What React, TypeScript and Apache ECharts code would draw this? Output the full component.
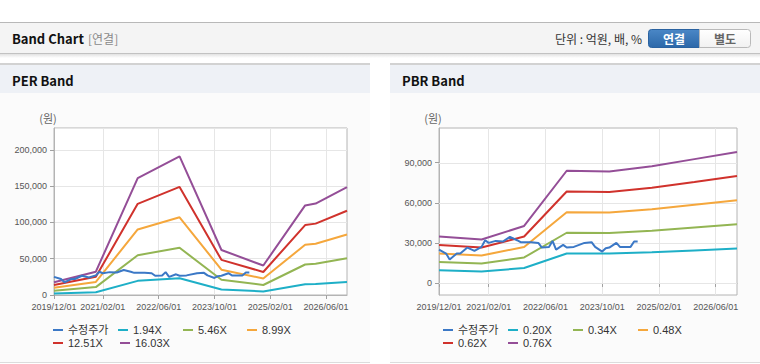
import React, { useEffect, useRef } from 'react';
import * as echarts from 'echarts';

// x-axis categories (monthly) and the labelled ticks
const monthCategories: string[] = [];
for (let y = 2019; y <= 2026; y++) {
  for (let m = 1; m <= 12; m++) {
    if (y === 2019 && m < 12) continue;
    monthCategories.push(`${y}/${String(m).padStart(2, '0')}/01`);
  }
}
const tickLabels = ['2019/12/01', '2021/02/01', '2022/06/01', '2023/10/01', '2025/02/01', '2026/06/01'];

// adjusted share price (수정주가)
const priceDates = [
  '2019/12/01', '2020/02/01', '2020/03/01', '2020/05/01', '2020/06/01', '2020/08/01', '2020/10/01', '2020/12/01',
  '2021/01/01', '2021/02/01', '2021/04/01', '2021/06/01', '2021/08/01', '2021/10/01', '2021/11/01', '2022/02/01',
  '2022/04/01', '2022/05/01', '2022/07/01', '2022/08/01', '2022/09/01', '2022/11/01', '2022/12/01', '2023/02/01',
  '2023/05/01', '2023/07/01', '2023/08/01', '2023/10/01', '2023/11/01', '2023/12/01', '2024/02/01', '2024/03/01',
  '2024/06/01', '2024/07/01', '2024/08/01',
];
const priceValues = [
  25000, 22000, 17500, 22000, 22000, 26500, 24000, 27000,
  32000, 30000, 31500, 31000, 34500, 32000, 30500, 30500,
  30000, 26500, 27000, 31500, 25000, 28500, 26500, 27000,
  30000, 30500, 27000, 23500, 26000, 26500, 30000, 27000,
  27000, 31000, 31000,
];

// PER band
const perDates = ['2019/12/01', '2020/12/01', '2021/12/01', '2022/12/01', '2023/12/01', '2024/12/01', '2025/12/01', '2026/03/01', '2026/12/01'];
const per194 = [2100, 3900, 19500, 23100, 7500, 4900, 14900, 15200, 18000];
const per546 = [6000, 10900, 54800, 65000, 21100, 13800, 42000, 42900, 50600];
const per899 = [9900, 18000, 90300, 107000, 34800, 22700, 69200, 70700, 83300];
const per1251 = [13800, 25000, 125600, 148900, 48400, 31700, 96300, 98300, 116000];
const per1603 = [17600, 32100, 161000, 190800, 62000, 40600, 123400, 126000, 148600];
const perNames = ['1.94X', '5.46X', '8.99X', '12.51X', '16.03X'];

// PBR band
const pbrDates = ['2019/12/01', '2020/12/01', '2021/12/01', '2022/12/01', '2023/12/01', '2024/12/01', '2025/12/01', '2026/12/01'];
const pbr020 = [9500, 8600, 11200, 22100, 22000, 23000, 24400, 25800];
const pbr034 = [15700, 14600, 19100, 37600, 37400, 39100, 41500, 43900];
const pbr048 = [22000, 20500, 27000, 53000, 52700, 55200, 58600, 61900];
const pbr062 = [28400, 26500, 34800, 68500, 68100, 71300, 75600, 80000];
const pbr076 = [34700, 32500, 42700, 84000, 83500, 87400, 92700, 98000];
const pbrNames = ['0.20X', '0.34X', '0.48X', '0.62X', '0.76X'];

const pbrTicks = [0, 30000, 60000, 90000];

const colors = ['#3b78c6', '#1eafc7', '#93b553', '#f5a73c', '#d0322c', '#944e97'];
const priceName = '수정주가';

const LABEL_FONT = "'Liberation Sans', Arial, sans-serif";
const TEXT_FONT = "'Liberation Sans', 'Noto Sans CJK KR', sans-serif";
const KR_FONT = "'Noto Sans CJK KR', 'Noto Sans', sans-serif";

const pairs = (dates: string[], vals: number[]) => dates.map((d, i) => [d, vals[i]]);
const tickSet = new Set(tickLabels);
const showTick = (_i: number, v: string) => tickSet.has(v);
const fmt = (v: number) => v.toLocaleString('en-US');

export default function App() {
  const ref = useRef<HTMLDivElement>(null);
  useEffect(() => {
    if (!ref.current) return;
    const chart = echarts.init(ref.current, undefined, { renderer: 'svg' });

    const xAxisBase = (gridIndex: number) => ({
      type: 'category',
      gridIndex,
      data: monthCategories,
      boundaryGap: false,
      axisLine: { show: true, lineStyle: { color: '#b4b4b4' } },
      axisTick: { show: true, interval: showTick, length: 4, lineStyle: { color: '#a0a0a0' } },
      axisLabel: { interval: showTick, showMinLabel: true, fontSize: 9, color: '#555', margin: 7, fontFamily: LABEL_FONT },
      splitLine: { show: true, interval: showTick, lineStyle: { color: '#e6e6e6' } },
    });

    const lineSeries = (name: string, x: number, data: any[], color: string, z = 2) => ({
      type: 'line',
      name,
      xAxisIndex: x,
      yAxisIndex: x,
      data,
      z,
      symbol: 'none',
      showSymbol: false,
      lineStyle: { width: 2, color },
      itemStyle: { color },
      emphasis: { disabled: true },
      silent: true,
    });

    const perSeriesData = [per194, per546, per899, per1251, per1603];
    const pbrSeriesData = [pbr020, pbr034, pbr048, pbr062, pbr076];

    const legendAt = (name: string, left: number, top: number) => ({
      data: [name],
      left,
      top,
      padding: 0,
      itemWidth: 10,
      itemHeight: 2,
      icon: 'rect',
      selectedMode: false,
      textStyle: { fontSize: 11, color: '#333', fontFamily: TEXT_FONT, lineHeight: 14 },
    });

    const legends: any[] = [];
    const perCols = [53, 118, 183, 247];
    const pbrCols = [443, 508, 573, 638];
    const perLegendNames = [priceName, ...perNames];
    const pbrLegendNames = [priceName, ...pbrNames];
    perLegendNames.forEach((n, i) => {
      const row = Math.floor(i / 4);
      const left = row === 1 && i === 5 ? 120 : perCols[i % 4];
      legends.push(legendAt(n, left, row === 0 ? 323 : 336));
    });
    pbrLegendNames.forEach((n, i) => {
      const row = Math.floor(i / 4);
      legends.push(legendAt(n, pbrCols[i % 4], row === 0 ? 323 : 336));
    });

    const Z = -10;
    const graphics: any[] = [
      // header
      { type: 'rect', z: Z, shape: { x: 0, y: 22, width: 760, height: 1 }, style: { fill: '#b8b8b8' } },
      { type: 'rect', z: Z, shape: { x: 0, y: 23, width: 760, height: 30 }, style: { fill: '#f4f4f4' } },
      { type: 'rect', z: Z, shape: { x: 0, y: 53, width: 760, height: 1 }, style: { fill: '#c2c2c2' } },
      {
        type: 'rect', z: Z, shape: { x: 0, y: 54, width: 760, height: 4 },
        style: { fill: new echarts.graphic.LinearGradient(0, 0, 0, 1, [{ offset: 0, color: '#e2e2e2' }, { offset: 1, color: '#ffffff' }]) },
      },
      { type: 'text', z: Z, x: 12, y: 38.5, style: { text: 'Band Chart', font: `bold 13px ${KR_FONT}`, fill: '#111', verticalAlign: 'middle' } },
      { type: 'text', z: Z, x: 88, y: 38.5, style: { text: '[연결]', font: `12px ${KR_FONT}`, fill: '#8a8a8a', verticalAlign: 'middle' } },
      { type: 'text', z: Z, x: 642, y: 38.5, style: { text: '단위 : 억원, 배, %', font: `12px ${KR_FONT}`, fill: '#333', align: 'right', verticalAlign: 'middle' } },
      {
        type: 'rect', z: Z, shape: { x: 648.5, y: 29.5, width: 51, height: 18, r: [3, 0, 0, 3] },
        style: { fill: new echarts.graphic.LinearGradient(0, 0, 0, 1, [{ offset: 0, color: '#4a87c6' }, { offset: 1, color: '#2c68a9' }]), stroke: '#2a62a0', lineWidth: 1 },
      },
      {
        type: 'rect', z: Z, shape: { x: 699.5, y: 29.5, width: 51, height: 18, r: [0, 3, 3, 0] },
        style: { fill: new echarts.graphic.LinearGradient(0, 0, 0, 1, [{ offset: 0, color: '#ffffff' }, { offset: 1, color: '#f1f1f1' }]), stroke: '#b9b9b9', lineWidth: 1 },
      },
      { type: 'text', z: Z, x: 674, y: 38.5, style: { text: '연결', font: `bold 12px ${KR_FONT}`, fill: '#ffffff', align: 'center', verticalAlign: 'middle' } },
      { type: 'text', z: Z, x: 725, y: 38.5, style: { text: '별도', font: `bold 12px ${KR_FONT}`, fill: '#666', align: 'center', verticalAlign: 'middle' } },
    ];
    // panels
    [
      { x: 0, title: 'PER Band' },
      { x: 390, title: 'PBR Band' },
    ].forEach((p) => {
      graphics.push(
        { type: 'rect', z: Z, shape: { x: p.x, y: 63, width: 370, height: 2 }, style: { fill: '#d2d2d2' } },
        { type: 'rect', z: Z, shape: { x: p.x, y: 65, width: 370, height: 28 }, style: { fill: '#eef1f6' } },
        { type: 'rect', z: Z, shape: { x: p.x, y: 93, width: 370, height: 269 }, style: { fill: '#fbfbfb' } },
        { type: 'rect', z: Z, shape: { x: p.x, y: 362, width: 370, height: 1 }, style: { fill: '#dcdcdc' } },
        { type: 'text', z: Z, x: p.x + 12, y: 80, style: { text: p.title, font: `bold 13px ${KR_FONT}`, fill: '#111', verticalAlign: 'middle' } },
      );
    });
    graphics.push(
      { type: 'text', z: Z, x: 48, y: 118, style: { text: '(원)', font: `11px ${KR_FONT}`, fill: '#666', align: 'center', verticalAlign: 'middle' } },
      { type: 'text', z: Z, x: 433, y: 118, style: { text: '(원)', font: `11px ${KR_FONT}`, fill: '#666', align: 'center', verticalAlign: 'middle' } },
    );

    const option: any = {
      animation: false,
      graphic: { elements: graphics },
      legend: legends,
      grid: [
        { left: 54, top: 128, width: 293, height: 167, show: true, borderColor: '#b4b4b4', borderWidth: 1, backgroundColor: '#ffffff' },
        { left: 439, top: 128, width: 298, height: 167, show: true, borderColor: '#b4b4b4', borderWidth: 1, backgroundColor: '#ffffff' },
      ],
      xAxis: [xAxisBase(0), xAxisBase(1)],
      yAxis: [
        {
          type: 'value', gridIndex: 0, min: 0, max: 230000, interval: 50000,
          axisLine: { show: true, lineStyle: { color: '#b4b4b4' } },
          axisTick: { show: true, length: 4, lineStyle: { color: '#a0a0a0' } },
          axisLabel: { showMaxLabel: false, fontSize: 9, color: '#555', margin: 7, fontFamily: LABEL_FONT, formatter: fmt },
          splitLine: { show: true, lineStyle: { color: '#e6e6e6' } },
        },
        {
          type: 'value', gridIndex: 1, min: -9000, max: 116000,
          axisLine: { show: true, lineStyle: { color: '#b4b4b4' } },
          axisTick: { show: true, length: 4, lineStyle: { color: '#a0a0a0' }, customValues: pbrTicks },
          axisLabel: { fontSize: 9, color: '#555', margin: 7, fontFamily: LABEL_FONT, formatter: fmt, customValues: pbrTicks },
          splitLine: { show: false },
        },
      ],
      series: [
        {
          // horizontal grid lines of the PBR plot, drawn through the axis scale
          type: 'custom',
          name: 'pbr-grid',
          xAxisIndex: 1,
          yAxisIndex: 1,
          z: 1,
          silent: true,
          clip: false,
          data: pbrTicks.map((v) => [0, v]),
          encode: { x: 0, y: 1 },
          renderItem: (params: any, api: any) => {
            const cs = params.coordSys;
            const y = Math.round(api.coord([0, api.value(1)])[1]) + 0.5;
            return {
              type: 'line',
              shape: { x1: cs.x, y1: y, x2: cs.x + cs.width, y2: y },
              style: { stroke: '#e6e6e6', lineWidth: 1 },
            };
          },
        },
        ...perSeriesData.map((d, i) => lineSeries(perNames[i], 0, pairs(perDates, d), colors[i + 1])),
        lineSeries(priceName, 0, pairs(priceDates, priceValues), colors[0], 3),
        ...pbrSeriesData.map((d, i) => lineSeries(pbrNames[i], 1, pairs(pbrDates, d), colors[i + 1])),
        lineSeries(priceName, 1, pairs(priceDates, priceValues), colors[0], 3),
      ],
    };
    chart.setOption(option);
    return () => chart.dispose();
  }, []);

  return <div ref={ref} style={{ position: 'absolute', left: 0, top: 0, width: 760, height: 364 }} />;
}
